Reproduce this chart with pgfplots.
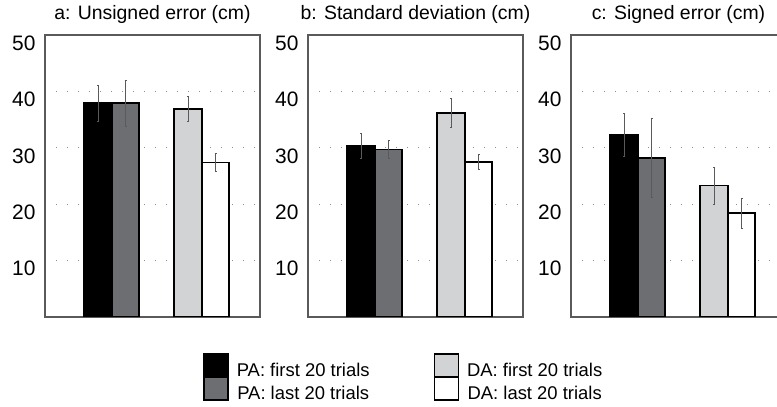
\documentclass[border=0pt]{standalone}
\usepackage{fontspec}
\setmainfont{Liberation Sans}
\usepackage{pgfplots}
\pgfplotsset{compat=1.18}
\definecolor{barG}{HTML}{6D6E71}
\definecolor{barL}{HTML}{D1D3D4}
\definecolor{axG}{HTML}{5A5A5A}
\definecolor{grG}{HTML}{8C8C8C}
\newcommand\tickfont{\fontsize{21}{24}\selectfont}
\pgfplotsset{
  panel/.style={
    anchor=south west,
    width=215bp, height=282bp, scale only axis,
    xmin=0, xmax=215, ymin=0, ymax=50,
    xtick=\empty, ytick={10,20,30,40,50},
    ymajorgrids, grid style={grG, line width=1.3bp, dash pattern=on 1.3bp off 9.7bp},
    major tick length=0pt,
    axis line style={axG, line width=1.3bp},
    ybar, bar width=27.5, bar shift=0pt,
    /pgf/number format/assume math mode=true,
    tick label style={font=\tickfont},
    yticklabel style={font=\tickfont, xshift=-6bp, yshift=-8bp},
    yticklabel={\tickfont\pgfmathprintnumber{\tick}},
    title style={font=\fontsize{19.5}{22}\selectfont, at={(0.5,1)}, anchor=base, yshift=10bp},
    every axis plot/.append style={draw=black, line width=1.8bp,
      error bars/y dir=both, error bars/y explicit,
      error bars/error bar style={axG, line width=0.8bp},
      error bars/error mark options={rotate=90, mark size=1bp, axG, line width=0.8bp}},
  },
  swatch/.style={legend image code/.code={%
    \draw[fill=#1, draw=black, line width=1.5bp] (0bp,-6bp) rectangle ++(24bp,23bp);}},
}
\begin{document}
\begin{tikzpicture}
\path[use as bounding box] (0,0) rectangle (777bp,407bp);
% panel a
\begin{axis}[panel, at={(45bp,90bp)}, title={a: Unsigned error (cm)}]
\addplot[fill=black] coordinates {(53,37.9) +- (0,3.2)};
\addplot[fill=barG] coordinates {(80.5,37.9) +- (0,4.1)};
\addplot[fill=barL] coordinates {(143,36.9) +- (0,2.2)};
\addplot[fill=white] coordinates {(170.5,27.4) +- (0,1.6)};
\end{axis}
% panel b
\begin{axis}[panel, at={(308bp,90bp)}, title={b: Standard deviation (cm)},
  legend columns=2, transpose legend,
  legend style={at={(-0.488,-0.127)}, anchor=north west, draw=none, fill=none,
    inner sep=0pt, row sep=-1.5bp, font=\fontsize{18.5}{21}\selectfont,
    nodes={inner sep=0pt, text height=12bp, text depth=0pt},
    /tikz/every odd column/.append style={column sep=8bp},
    /tikz/every even column/.append style={column sep=64bp}}]
\addplot[fill=black, swatch=black] coordinates {(53,30.4) +- (0,2.2)};
\addplot[fill=barG, swatch=barG] coordinates {(80.5,29.7) +- (0,1.65)};
\addplot[fill=barL, swatch=barL] coordinates {(143,36.2) +- (0,2.5)};
\addplot[fill=white, swatch=white] coordinates {(170.5,27.5) +- (0,1.35)};
\legend{PA: first 20 trials, PA: last 20 trials, DA: first 20 trials, DA: last 20 trials}
\end{axis}
% panel c
\begin{axis}[panel, at={(571bp,90bp)}, title={c: Signed error (cm)}]
\addplot[fill=black] coordinates {(53,32.3) +- (0,3.8)};
\addplot[fill=barG] coordinates {(80.5,28.2) +- (0,7.0)};
\addplot[fill=barL] coordinates {(143,23.3) +- (0,3.3)};
\addplot[fill=white] coordinates {(170.5,18.4) +- (0,2.7)};
\end{axis}
\end{tikzpicture}
\end{document}
